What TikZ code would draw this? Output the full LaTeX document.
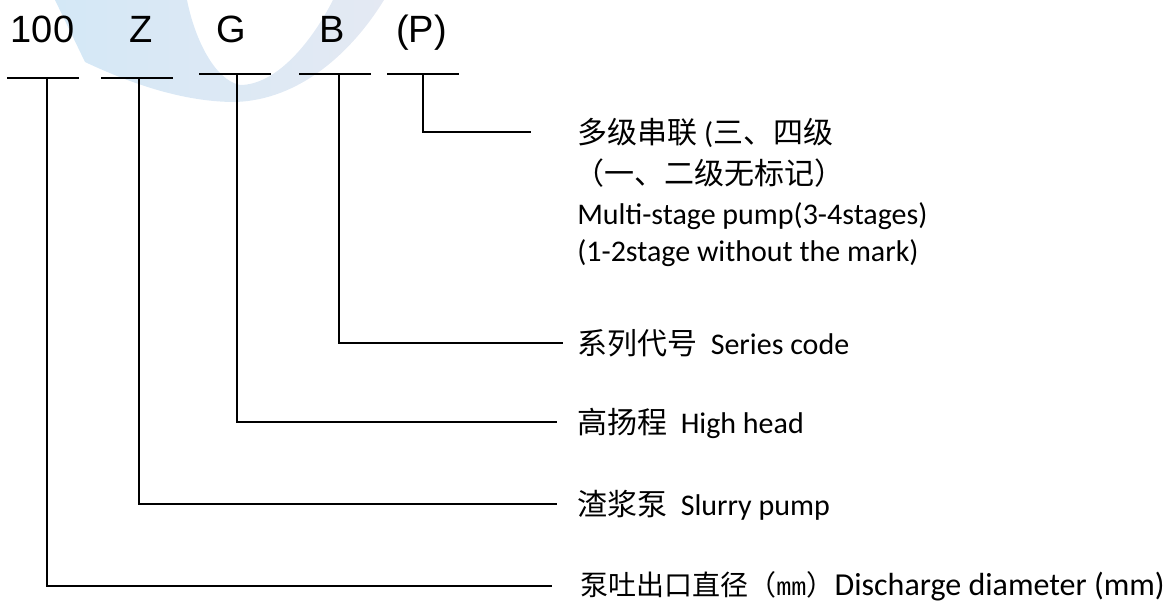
\documentclass[tikz,border=0pt]{standalone}
\usepackage{fontspec}
\setmainfont{Carlito}
\newfontfamily\cjk{Noto Sans CJK SC}
\newfontfamily\arialf{Liberation Sans}
\newfontfamily\monof{Liberation Mono}
\usepackage{tikz}

\definecolor{wmblue}{RGB}{212,232,246}
\definecolor{wmgrey}{RGB}{228,233,243}

\begin{document}
\begin{tikzpicture}[x=0.75pt, y=-0.75pt,
        code/.style={font=\arialf\fontsize{28.5}{30}\selectfont, anchor=base, inner sep=0pt},
        desc/.style={font=\fontsize{22.5}{27}\selectfont, anchor=base west, inner sep=0pt},
        bar/.style={line width=1.3pt},
        lead/.style={line width=1.3pt}]
    \useasboundingbox (0,0) rectangle (1172,603);

    % faint logo in the back
    \shade[left color=wmblue, right color=wmgrey]
        (55,0) -- (85,62) .. controls (140,88) and (190,102) .. (235,102)
        .. controls (300,100) and (352,52) .. (384,0) -- (333,0)
        .. controls (310,45) and (275,85) .. (240,85)
        .. controls (215,80) and (195,40) .. (187,0) -- cycle;

    % model code
    \node[code] (c100) at (42.5,42) {100};
    \node[code] (cZ) at (141,42) {Z};
    \node[code] (cG) at (231.5,42) {G};
    \node[code] (cB) at (332.5,42) {B};
    \node[code] (cP) at (421.5,42) {(P)};

    \foreach \n/\a/\b/\v/\h in {100/7/79/47/78, Z/101/173/139/78, G/199/271/237/74, B/299/371/339/74, P/387/459/423/74}{
        \draw[bar] (\a,\h) -- (\b,\h);
        \coordinate (u\n) at (\v,\h);
    }

    % meanings
    \node[desc] (tP1) at (577,143) {{\cjk 多级串联} ({\cjk 三、四级}};
    \node[desc] (tP2) at (574,184) {\cjk （一、二级无标记）};
    \node[desc] (tP3) at (577,224) {Multi-stage pump(3-4stages)};
    \node[desc] (tP4) at (577,261) {(1-2stage without the mark)};
    \node[desc] (tB) at (577,354) {{\cjk 系列代号}\hspace{0.45em}Series code};
    \node[desc] (tG) at (577,433) {{\cjk 高扬程}\hspace{0.45em}High head};
    \node[desc] (tZ) at (577,515) {{\cjk 渣浆泵}\hspace{0.45em}Slurry pump};
    \node[desc, font=\fontsize{24}{27}\selectfont] (t100) at (580,595)
        {{\cjk\fontsize{21}{25}\selectfont 泵吐出口直径（}{\monof\fontsize{19}{25}\selectfont mm}{\cjk\fontsize{21}{25}\selectfont ）}Discharge diameter (mm)};

    \coordinate (eP) at (531,132);
    \coordinate (eB) at (563,343);
    \coordinate (eG) at (557,422);
    \coordinate (eZ) at (557,504);
    \coordinate (e100) at (552,586);

    \draw[lead] (uP) |- (eP);
    \draw[lead] (uB) |- (eB);
    \draw[lead] (uG) |- (eG);
    \draw[lead] (uZ) |- (eZ);
    \draw[lead] (u100) |- (e100);
\end{tikzpicture}
\end{document}
